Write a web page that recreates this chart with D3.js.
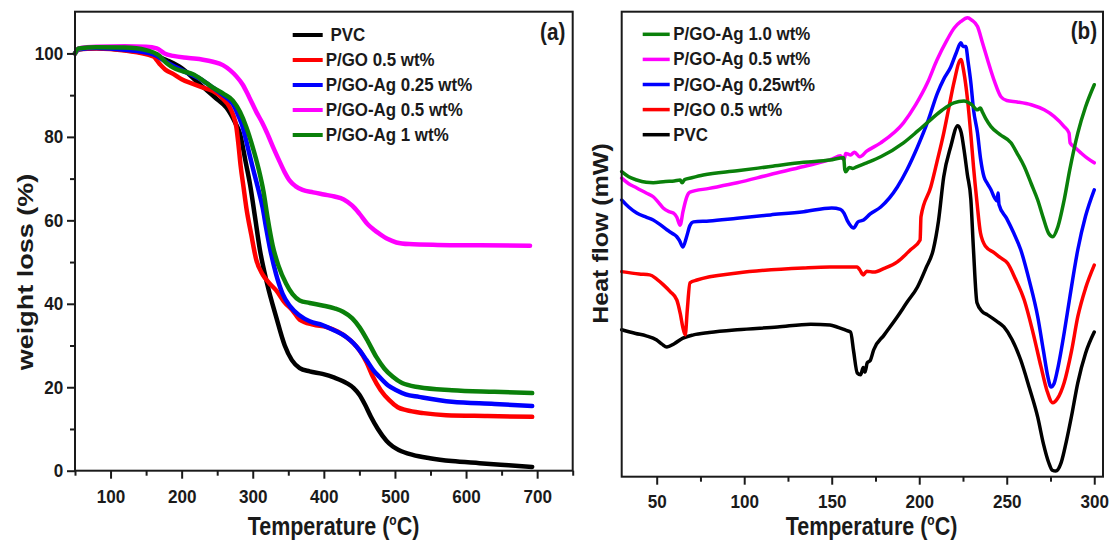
<!DOCTYPE html>
<html>
<head>
<meta charset="utf-8">
<script src="https://cdn.jsdelivr.net/npm/d3@7"></script>
<style>
  body { margin: 0; background: #fff; }
  svg { display: block; font-family: "Liberation Sans", Arial, sans-serif; font-weight: bold; }
</style>
</head>
<body>
<svg id="chart" width="1109" height="542"></svg>
<script>
'use strict';

// ---- panel (a): TGA, [temperature, weight %]
const tgaPVC = [[50,100],[55,101],[80,101.3],[120,100.8],[160,99.6],[180,98.3],[200,96.5],[225,92.7],[250,89],[263,87],
  [275,83.5],[282,80.8],[290,74],[296,68.8],[303,61],[310,53],[320,45],[333,36.8],[345,30],[355,26.5],[366,24.6],
  [380,23.8],[398,23.2],[415,22.3],[432,21],[442,19.8],[450,18.2],[458,15.8],[466,13],[476,10],[488,7.2],[497,5.8],
  [506,4.9],[525,3.8],[549,3.0],[580,2.3],[619,1.8],[660,1.3],[693,0.9]];
const tgaGO05 = [[50,100],[55,101],[80,101.2],[120,100.7],[160,99.3],[169,97.5],[178,96],[188,95.1],[200,93.8],[216,92.7],
  [230,91.8],[244,91],[256,89.5],[268,87],[273,85],[277,82.3],[280,78],[283,73],[287,68],[291,63],[298,56.5],[305,50.5],
  [314,47],[323,45],[333,43.2],[345,40.3],[356,38.4],[366,36.2],[385,35],[404,34.4],[420,33.3],[432,32],[442,30.5],
  [450,28.9],[460,26],[469,22.5],[480,19.3],[492,16.9],[504,15.2],[516,14.5],[540,13.8],[572,13.3],[630,13.1],[693,12.9]];
const tgaAg025 = [[50,100],[55,101],[80,101.3],[120,100.9],[160,99.8],[180,97.8],[200,96],[225,94],[244,91.8],[260,89.8],
  [272,87.9],[280,85],[286,82.3],[293,77.5],[300,72.6],[307,68],[314,63],[319,58],[324,53.5],[333,47],[342,42.4],
  [352,39.5],[366,37.2],[380,35.8],[398,34.9],[415,33.6],[432,32],[442,30.5],[450,28.9],[460,26.5],[470,24],
  [478,22.5],[490,20.5],[502,19.3],[515,18.3],[534,17.7],[580,16.5],[640,16],[693,15.5]];
const tgaAg05 = [[50,100],[55,101.2],[80,101.6],[120,101.7],[150,101.6],[165,101.2],[176,100],[188,99.4],[210,98.9],
  [230,98.5],[244,98],[258,97.2],[268,96],[277,94.5],[286,92.5],[295,89.5],[305,86],[313,83.5],[320,81],[330,77],
  [338,74],[345,71.5],[352,69.5],[360,68.2],[370,67.3],[385,66.7],[400,66.2],[415,65.7],[428,65],[440,63.5],
  [450,61.6],[462,59],[470,57.8],[478,56.8],[490,55.5],[502,54.7],[520,54.3],[560,54.1],[620,54],[690,53.9]];
const tgaAg1 = [[50,100],[55,101.2],[80,101.5],[120,101.4],[150,100.8],[169,99.4],[180,97.5],[188,96.6],[200,95.8],
  [216,95],[230,93.5],[244,91.8],[260,90.2],[272,88.7],[282,86],[291,82.3],[300,77.5],[308,72.5],[315,67],[321,60.5],
  [328,54],[336,49.2],[347,44.8],[356,42.3],[366,40.8],[380,40.2],[398,39.6],[415,38.9],[427,38.1],[440,36.5],
  [450,34.4],[462,31],[474,27.2],[485,24.5],[497,22.5],[510,21],[534,20],[580,19.3],[640,18.9],[693,18.6]];

const tgaNames = ["\u00a0PVC", "P/GO 0.5 wt%", "P/GO-Ag 0.25 wt%", "P/GO-Ag 0.5 wt%", "P/GO-Ag 1 wt%"];
const tgaXTicks = [100, 200, 300, 400, 500, 600, 700];
const tgaXMinor = [50, 150, 250, 350, 450, 550, 650, 750];
const tgaYTicks = [0, 20, 40, 60, 80, 100];
const tgaYMinor = [10, 30, 50, 70, 90];

// ---- panel (b): DSC, [temperature, heat flow (a.u.)]
const dscPVC = [[30,31.6],[38,30.8],[44,30.3],[50,29.4],[53,28.5],[55.8,27.9],[60,28.6],[65,29.8],[71,30.5],[80,31],
  [96,31.6],[119,32.2],[138,32.8],[149,32.6],[153,32.2],[158,31.5],[160.8,31.1],[162.5,27],[164.6,22.3],[166.5,21.9],
  [168,23.5],[169,22.5],[170.3,24.5],[172,25],[174,27.3],[180,30.5],[187.5,34.4],[193,37.5],[199,40.8],[204,45],
  [208,48.8],[211,55],[214,64.5],[218,71],[222,75.5],[224,74],[225.6,70.3],[227.5,65],[229.5,59.6],[231,48.8],
  [233,37.4],[236,35.5],[239,34.8],[244,33.5],[248.4,32.2],[253,29.5],[258,25.1],[263,19],[267.7,12.8],[271,7],
  [274,3],[276,1.4],[278,1.2],[281,2.9],[284,7.5],[287,13],[290.6,20.2],[295,26.5],[300,31.1]];
const dscGO05 = [[30,44.1],[40,43.6],[46,43.4],[50,42.5],[53.7,41.3],[57.7,39.8],[61.5,38],[63.5,35],[65,32],[66.3,30.5],
  [67.5,36],[69,41.7],[73,42.3],[96,43.8],[134,44.9],[149,45.1],[160,45.1],[164.6,45.1],[166,44.5],[168,43.4],
  [170,44.2],[174,44],[180,44.8],[187.5,46.2],[195,48.8],[200.5,50.9],[201,55.9],[206.6,62.3],[210,67.5],[214,73.9],
  [217,79.5],[219.8,84.7],[223.8,89.7],[225.5,87],[227.6,81.1],[229.5,73.5],[231,66.7],[233,59],[235,52.4],
  [238,49.5],[242.7,48.2],[246,47.2],[250.5,45.9],[255,42.5],[260,38],[265,31],[269.6,23.6],[273,18.5],
  [276.3,15.9],[279,16.8],[282.8,20.2],[287,27],[290.6,34.4],[295,40.5],[300,45.5]];
const dscAg025 = [[30,59.5],[34,58],[38.6,56.7],[44,55.8],[48,55.2],[52,54.2],[55.8,53.1],[59,52.3],[61.5,51.6],[63,50.8],
  [65,49.4],[67,51.5],[69,54],[71,54.8],[80,55],[96,55.6],[115,56.3],[134,57],[150,57.8],[155,57.5],[157,56.7],
  [159,55],[162.5,53.5],[165,54.8],[168.2,55.2],[172,56.5],[178,58],[187.5,62.3],[193,66],[199,70.9],[205,76.5],
  [210.4,82.5],[214,85.5],[218,88.1],[221,91],[223.8,93.3],[225,92.5],[226.6,92.5],[228,89],[229.5,84.7],[231,79],
  [233.3,73.9],[235,68.5],[237,64.5],[239,63],[241,61.7],[243,60],[244.5,59.3],[245,61],[245.6,58.5],[250,55.5],
  [254,52.4],[258,48.8],[263,42],[267.7,34.4],[271,27],[273.5,21.5],[275.3,19.3],[277,20],[279,23],[282.8,30.9],
  [286,38.5],[290.6,48.8],[295,56],[300,61.7]];
const dscAg05 = [[30,64.2],[34,63],[38.6,62.1],[44,61],[48,60.2],[51,59],[53.7,57.8],[57,57],[59.5,56.7],[61.5,55.8],
  [63.4,54.1],[65,57],[67.2,60.2],[69,61.2],[80,62],[96,63.2],[115,65],[134,66.7],[150,68.3],[155,69],[157,68.2],
  [158,69.5],[160.8,69.2],[163,69.8],[166,68.8],[170,70],[178,71.8],[191,76.1],[198,80],[204.7,84.7],[210,89.5],
  [216,94],[220,96.5],[223.8,97.9],[227.6,98.7],[230,98.2],[233.3,96.8],[236,93.5],[239,89.7],[243,85],[246.7,81.7],
  [250,80.9],[256,80.6],[264,80],[271.4,78.9],[277,77.5],[282.8,75.3],[285.6,73.9],[286.2,71.8],[289,70.8],
  [292.5,69.6],[296,68.5],[300,67.5]];
const dscAg1 = [[30,65.6],[34,64.5],[38.6,63.8],[44,63.3],[48,63.2],[55,63.5],[60,63.6],[63.4,63.8],[64.5,63.2],[66,63.9],
  [70,64.3],[76.6,64.9],[96,65.8],[115,66.7],[134,67.6],[149,68.1],[156.8,68.6],[157.5,66],[158,65.6],[160,66.5],
  [162,66.3],[164.6,66.7],[170,67.5],[178,68.8],[191,71.8],[199,74.3],[206.6,76.8],[213,78.8],[219.8,80.4],
  [225.6,80.8],[230,80],[233.3,78.9],[235,79.3],[236,78.5],[238,77],[241,75.3],[246,73.6],[252.4,71.8],[256,69.5],
  [260,66.7],[264,63],[267.7,59.5],[271,55.5],[274,52.3],[276.3,51.6],[279,53.5],[282.8,59.5],[286,66],[290.6,73.9],
  [295,79.5],[300,84.3]];

const dscNames = ["P/GO-Ag 1.0 wt%", "P/GO-Ag 0.5 wt%", "P/GO-Ag 0.25wt%", "P/GO 0.5 wt%", "PVC"];
const dscXTicks = [50, 100, 150, 200, 250, 300];
const dscXMinor = [75, 125, 175, 225, 275];

const colors = { pvc: "#000000", go: "#ff0000", ag025: "#0000ff", ag05: "#ff00ff", ag1: "#0a800a" };
const FG = "#1a1a1a";

const svg = d3.select("#chart");
svg.append("rect").attr("width", 1109).attr("height", 542).attr("fill", "#fff");

// text squeezed a bit horizontally, like the source picture
function addText(parent, x, y, str, size, anchor, sx) {
  return parent.append("text")
    .attr("transform", `translate(${x},${y}) scale(${sx},1)`)
    .attr("text-anchor", anchor)
    .attr("font-size", size)
    .attr("fill", FG)
    .text(str);
}

function tempTitle(parent, x, y) {
  const t = addText(parent, x, y, "Temperature (", 25, "middle", 0.86);
  t.append("tspan").attr("font-size", 14).attr("dy", -10).text("o");
  t.append("tspan").attr("dy", 10).text("C)");
}

function styleAxis(ax, sx) {
  ax.attr("font-family", null).attr("font-size", 19).attr("color", FG);
  ax.select(".domain").remove();
  ax.selectAll("line").attr("stroke-width", 2);
  ax.selectAll("text").attr("transform", `scale(${sx},1)`);
}

function bottomAxis(g, x, y0, major, minor, pad) {
  g.append("g").attr("transform", `translate(0,${y0})`)
    .call(d3.axisBottom(x).tickValues(minor).tickSize(5).tickFormat("").tickSizeOuter(0))
    .call(ax => styleAxis(ax, 1));
  g.append("g").attr("transform", `translate(0,${y0})`)
    .call(d3.axisBottom(x).tickValues(major).tickSize(8).tickPadding(pad).tickSizeOuter(0))
    .call(ax => styleAxis(ax, 0.9));
}

function legend(g, x0, y0, step, len, width, names, cols, textX) {
  names.forEach(function (name, i) {
    const y = y0 + i * step;
    g.append("line")
      .attr("x1", x0).attr("x2", x0 + len)
      .attr("y1", y).attr("y2", y)
      .attr("stroke", cols[i]).attr("stroke-width", width);
    addText(g, textX, y + 6, name, 19, "start", 0.89);
  });
}

// ---------------- panel (a)
const xA = d3.scaleLinear().domain([50, 750]).range([75, 572.7]);
const yA = d3.scaleLinear().domain([0, 110]).range([470.7, 11.7]);
const gA = svg.append("g");

const seriesA = [
  { data: tgaPVC, color: colors.pvc },
  { data: tgaGO05, color: colors.go },
  { data: tgaAg025, color: colors.ag025 },
  { data: tgaAg05, color: colors.ag05 },
  { data: tgaAg1, color: colors.ag1 }
];
const lineA = d3.line().x(d => xA(d[0])).y(d => yA(d[1])).curve(d3.curveMonotoneX);
gA.selectAll("path.tga").data(seriesA).enter()
  .append("path").attr("class", "tga")
  .attr("d", d => lineA(d.data))
  .attr("fill", "none")
  .attr("stroke", d => d.color)
  .attr("stroke-width", 4.5)
  .attr("stroke-linejoin", "round")
  .attr("stroke-linecap", "round");

bottomAxis(gA, xA, 470.7, tgaXTicks, tgaXMinor, 11);
gA.append("g").attr("transform", "translate(75,0)")
  .call(d3.axisLeft(yA).tickValues(tgaYMinor).tickSize(5).tickFormat("").tickSizeOuter(0))
  .call(ax => styleAxis(ax, 1));
gA.append("g").attr("transform", "translate(75,0)")
  .call(d3.axisLeft(yA).tickValues(tgaYTicks).tickSize(8).tickPadding(5).tickSizeOuter(0))
  .call(ax => styleAxis(ax, 0.9));

gA.append("rect")
  .attr("x", xA.range()[0]).attr("y", yA.range()[1])
  .attr("width", xA.range()[1] - xA.range()[0])
  .attr("height", yA.range()[0] - yA.range()[1])
  .attr("fill", "none").attr("stroke", FG).attr("stroke-width", 2);

legend(gA, 292.7, 35, 25, 30, 4, tgaNames, seriesA.map(s => s.color), 325.7);
addText(gA, 540, 39.5, "(a)", 23, "start", 0.9);

gA.append("text")
  .attr("transform", "translate(33,272) scale(0.85,1) rotate(-90)")
  .attr("text-anchor", "middle").attr("font-size", 27).attr("fill", FG)
  .text("weight loss (%)");
tempTitle(gA, 333.5, 535);

// ---------------- panel (b)
const xB = d3.scaleLinear().domain([30, 305]).range([621.7, 1103]);
const yB = d3.scaleLinear().domain([0, 100]).range([476.7, 11.7]);
const gB = svg.append("g");

const seriesB = [
  { data: dscPVC, color: colors.pvc },
  { data: dscGO05, color: colors.go },
  { data: dscAg025, color: colors.ag025 },
  { data: dscAg05, color: colors.ag05 },
  { data: dscAg1, color: colors.ag1 }
];
const lineB = d3.line().x(d => xB(d[0])).y(d => yB(d[1])).curve(d3.curveMonotoneX);
gB.selectAll("path.dsc").data(seriesB).enter()
  .append("path").attr("class", "dsc")
  .attr("d", d => lineB(d.data))
  .attr("fill", "none")
  .attr("stroke", d => d.color)
  .attr("stroke-width", 3.5)
  .attr("stroke-linejoin", "round")
  .attr("stroke-linecap", "round");

bottomAxis(gB, xB, 476.7, dscXTicks, dscXMinor, 10);

gB.append("rect")
  .attr("x", xB.range()[0]).attr("y", yB.range()[1])
  .attr("width", xB.range()[1] - xB.range()[0])
  .attr("height", yB.range()[0] - yB.range()[1])
  .attr("fill", "none").attr("stroke", FG).attr("stroke-width", 2);

legend(gB, 642.7, 34.3, 25.1, 27, 3.5, dscNames,
  [colors.ag1, colors.ag05, colors.ag025, colors.go, colors.pvc], 673.3);
addText(gB, 1070.7, 39.3, "(b)", 23, "start", 0.9);

gB.append("text")
  .attr("transform", "translate(608,233.5) scale(0.85,1) rotate(-90)")
  .attr("text-anchor", "middle").attr("font-size", 25).attr("fill", FG)
  .text("Heat flow (mW)");
tempTitle(gB, 871.5, 535);
</script>
</body>
</html>
